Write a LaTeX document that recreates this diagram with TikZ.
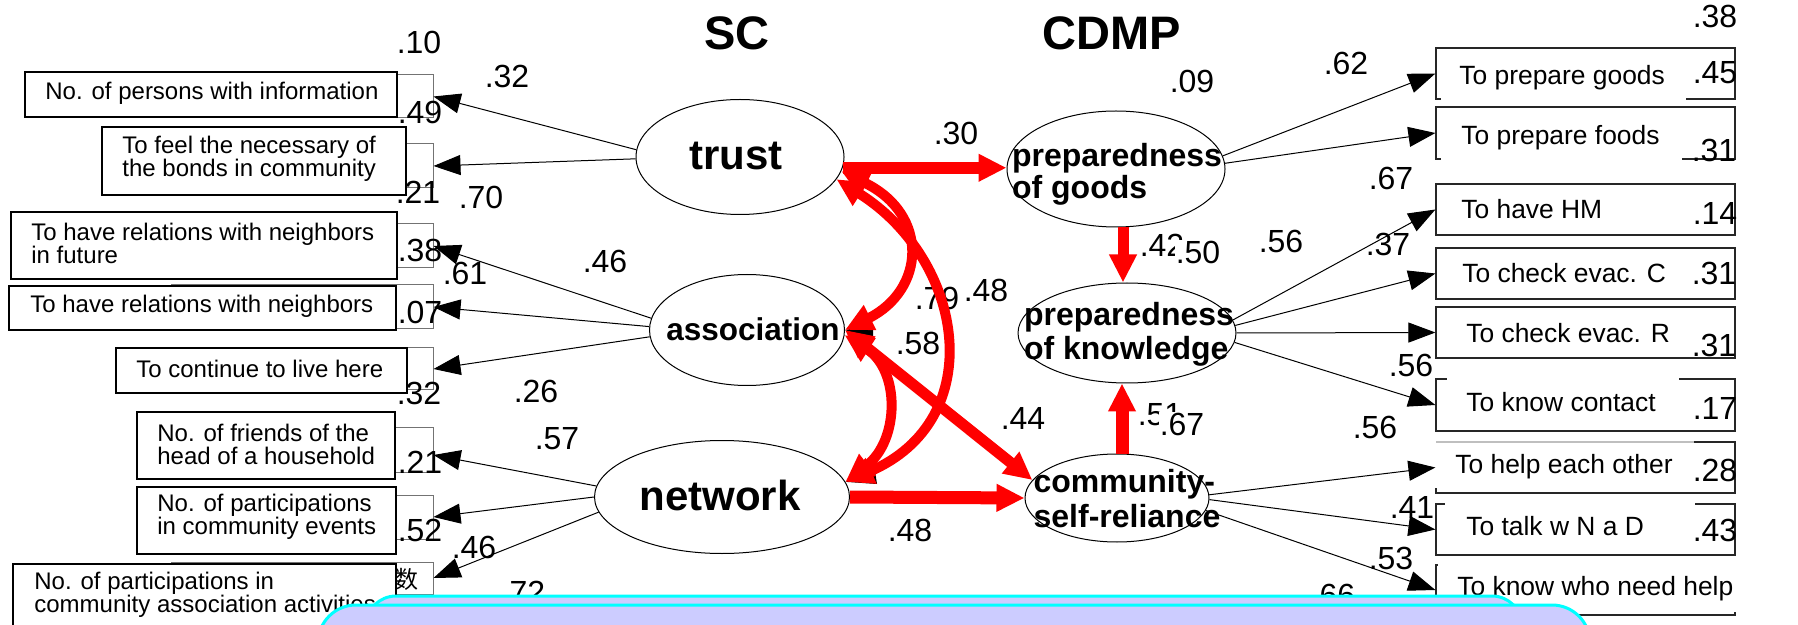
\documentclass[tikz,border=0pt]{standalone}
\usepackage{fontspec}
\setmainfont{Liberation Sans}
\newfontfamily\cjkfont{Noto Sans CJK SC}
\usetikzlibrary{arrows.meta,shapes.geometric,fit}
\definecolor{lav}{RGB}{204,204,255}
\definecolor{cyanb}{RGB}{0,255,255}
\begin{document}
\begin{tikzpicture}[x=0.5pt,y=-0.5pt,
  lbl/.style={inner sep=0pt, font=\fontsize{16}{16}\selectfont},
  lbox/.style={draw=black, line width=1pt, fill=white, inner sep=0pt},
  tbox/.style={draw=black!55, line width=0.5pt, inner sep=0pt},
  rbox/.style={draw=black!85, line width=0.6pt, inner sep=0pt},
  ltxt/.style={anchor=west, align=left, inner sep=0pt, font=\fontsize{12}{11.5}\selectfont},
  rtxt/.style={anchor=west, inner sep=0pt, font=\fontsize{13.2}{14}\selectfont},
  lat/.style={draw=black, line width=0.5pt, inner sep=0pt, shape=ellipse},
  etxt/.style={inner sep=0pt, align=left},
  blk/.style={draw=black, line width=0.5pt, -{Triangle[length=13.5pt,width=10pt]}},
  redarr/.style={draw=red, line width=6pt, -{Triangle[length=14pt,width=13pt]}},
  redcurve/.style={draw=red, line width=5pt, {Triangle[length=14pt,width=13pt]}-{Triangle[length=14pt,width=13pt]}},
  bluebox/.style={fill=lav, draw=cyanb, line width=1.5pt}
]
\path[use as bounding box] (0,0) rectangle (1798,625);
\clip (0,0) rectangle (1798,625);
\fill[white] (0,0) rectangle (1798,625);

% thin back boxes (left)
\node[tbox, fit={(171,75) (433,118)}] (t1) {};
\node[tbox, fit={(171,144) (433,188)}] (t2) {};
\node[tbox, fit={(171,224) (433,268)}] (t3) {};
\node[tbox, fit={(171,285) (433,329)}] (t4) {};
\node[tbox, fit={(171,348) (433,390)}] (t5) {};
\node[tbox, fit={(171,427) (433,472)}] (t6) {};
\node[tbox, fit={(171,495) (433,539)}] (t7) {};
\node[tbox, fit={(171,562) (433,594)}] (t8) {};
\node[inner sep=0pt, font=\cjkfont\fontsize{12}{12}\selectfont] (kanji) at (406,579) {数};

% thick boxes (left)
\node[lbox, fit={(25,72) (397,117)}] (b1) {};
\node[lbox, fit={(102,127) (406,195)}] (b2) {};
\node[lbox, fit={(11,212) (397,279)}] (b3) {};
\node[lbox, fit={(9,286) (396,330)}] (b4) {};
\node[lbox, fit={(116,348) (407,393)}] (b5) {};
\node[lbox, fit={(137,412) (395,479)}] (b6) {};
\node[lbox, fit={(137,487) (396,554)}] (b7) {};
\node[lbox, fit={(13,564) (396,660)}] (b8) {};
\node[ltxt] (bt1) at (45,93) {No. of persons with information};
\node[ltxt] (bt2) at (122,159) {To feel the necessary of\\the bonds in community};
\node[ltxt] (bt3) at (31,243) {To have relations with neighbors\\in future};
\node[ltxt] (bt4) at (30,306) {To have relations with neighbors};
\node[ltxt] (bt5) at (136,369) {To continue to live here};
\node[ltxt] (bt6) at (157,444) {No. of friends of the\\head of a household};
\node[ltxt] (bt7) at (157,517) {No. of participations\\in community events};
\node[ltxt] (bt8) at (34,595) {No. of participations in\\community association activities};

% right boxes
\node[rbox, fit={(1436,48) (1735,99)}] (r1) {};
\node[rbox, fit={(1436,107) (1735,159)}] (r2) {};
\node[rbox, fit={(1436,184) (1735,235)}] (r3) {};
\node[rbox, fit={(1436,248) (1735,299)}] (r4) {};
\node[rbox, fit={(1436,307) (1735,358)}] (r5) {};
\node[rbox, fit={(1436,379) (1735,431)}] (r6) {};
\node[rbox, fit={(1436,442) (1735,493)}] (r7) {};
\node[rbox, fit={(1436,504) (1735,555)}] (r8) {};
\node[rbox, fit={(1436,565) (1735,615)}] (r9) {};
\fill[white] (1441,60) rectangle (1686,101);
\fill[white] (1441,120) rectangle (1682,161);
\fill[white] (1447,377) rectangle (1679,392);
\fill[white] (1434,440) rectangle (1694,488);
\draw[black!25, line width=0.6pt] (1436,442) -- (1694,442);
\fill[white] (1445,502) rectangle (1695,516);
\fill[white] (1438,563) rectangle (1737,612);
\fill[white] (1438,612) rectangle (1579,618);
\node[rtxt] (rt1) at (1459,78) {To prepare goods};
\node[rtxt] (rt2) at (1461,138) {To prepare foods};
\node[rtxt] (rt3) at (1461,209) {To have HM};
\node[rtxt] (rt4) at (1462,273) {To check evac. C};
\node[rtxt] (rt5) at (1466,333) {To check evac. R};
\node[rtxt] (rt6) at (1466,402) {To know contact};
\node[rtxt] (rt7) at (1455,467) {To help each other};
\node[rtxt] (rt8) at (1466,526) {To talk w N a D};
\node[rtxt] (rt9) at (1457,589) {To know who need help};

% latent variables
\node[lat, minimum width=104pt, minimum height=57.5pt] (trust) at (740,157) {};
\node[lat, minimum width=97.5pt, minimum height=55.5pt] (assoc) at (747,330) {};
\node[lat, minimum width=127.5pt, minimum height=56.5pt] (network) at (722,497) {};
\node[lat, minimum width=109pt, minimum height=58pt] (goods) at (1116,169) {};
\node[lat, minimum width=109pt, minimum height=50pt] (know) at (1127,333) {};
\node[lat, minimum width=92pt, minimum height=44pt] (comm) at (1117,498) {};

% black loadings
\draw[blk] (trust.176) -- (t1.east);
\draw[blk] (trust.181) -- (t2.east);
\draw[blk] (assoc.173) -- (t3.east);
\draw[blk] (assoc.178) -- (t4.east);
\draw[blk] (assoc.184) -- (t5.east);
\draw[blk] (network.175) -- ([yshift=-2.75pt]t6.east);
\draw[blk] (network.180) -- (t7.east);
\draw[blk] (network.187) -- (t8.east);
\draw[blk] (goods.7) -- (r1.west);
\draw[blk] (goods.3) -- (r2.west);
\draw[blk] (know.7) -- (r3.west);
\draw[blk] (know.4) -- (r4.west);
\draw[blk] (know.0) -- (r5.west);
\draw[blk] (know.355) -- (r6.west);
\draw[blk] (comm.2) -- (r7.west);
\draw[blk] (comm.359) -- (r8.west);
\draw[blk] (comm.352) -- (r9.west);

% black remnants
\fill[black] (assoc.east) -- (873,325) -- (873,340) -- cycle;
\fill[black] (network.7) -- (875,471) -- (877,484) -- cycle;

% titles and latent texts
\node[inner sep=0pt, font=\bfseries\fontsize{23.5}{24}\selectfont] (sc) at (737,33) {SC};
\node[inner sep=0pt, font=\bfseries\fontsize{23.5}{24}\selectfont] (cdmp) at (1112,33) {CDMP};
\node[etxt, font=\bfseries\fontsize{21}{21}\selectfont] (trustT) at (736,156) {trust};
\node[etxt, font=\bfseries\fontsize{15.75}{16}\selectfont] (assocT) at (753,329) {association};
\node[etxt, font=\bfseries\fontsize{21}{21}\selectfont] (networkT) at (720,495) {network};
\node[etxt, font=\bfseries\fontsize{16}{16}\selectfont] (goodsT) at (1117,174) {preparedness\\of goods};
\node[etxt, font=\bfseries\fontsize{16}{17}\selectfont] (knowT) at (1129,334) {preparedness\\of knowledge};
\node[etxt, font=\bfseries\fontsize{16}{17.5}\selectfont] (commT) at (1127,499) {community-\\self-reliance};

% numbers
\node[lbl] (n01) at (419,42) {.10};
\node[lbl] (n02) at (507,76) {.32};
\node[lbl] (n03) at (420,112) {.49};
\node[lbl] (n04) at (418,192) {.21};
\node[lbl] (n05) at (481,197) {.70};
\node[lbl] (n06) at (420,250) {.38};
\node[lbl] (n07) at (605,261) {.46};
\node[lbl] (n08) at (465,273) {.61};
\node[lbl] (n09) at (420,312) {.07};
\node[lbl] (n10) at (419,393) {.32};
\node[lbl] (n11) at (536,391) {.26};
\node[lbl] (n12) at (557,439) {.57};
\node[lbl] (n13) at (420,462) {.21};
\node[lbl] (n14) at (420,530) {.52};
\node[lbl] (n15) at (474,547) {.46};
\node[lbl] (n16) at (523,592) {.72};
\node[lbl] (n17) at (1192,81) {.09};
\node[lbl] (n18) at (956,133) {.30};
\node[lbl] (n19) at (937,298) {.79};
\node[lbl] (n20) at (986,290) {.48};
\node[lbl] (n21) at (918,343) {.58};
\node[lbl] (n22) at (1162,245) {.42};
\node[lbl, fill=white, inner sep=0.5pt] (n23) at (1198,252) {.50};
\node[lbl] (n24) at (1023,418) {.44};
\node[lbl] (n25) at (1160,415) {.51};
\node[lbl, fill=white, inner sep=0.5pt] (n26) at (1182,424) {.67};
\node[lbl] (n27) at (910,530) {.48};
\node[lbl] (n28) at (1715,16) {.38};
\node[lbl] (n29) at (1346,63) {.62};
\node[lbl] (n30) at (1715,73) {.45};
\node[lbl] (n31) at (1714,150) {.31};
\node[lbl] (n32) at (1391,178) {.67};
\node[lbl] (n33) at (1715,213) {.14};
\node[lbl] (n34) at (1281,241) {.56};
\node[lbl] (n35) at (1388,244) {.37};
\node[lbl] (n36) at (1714,273) {.31};
\node[lbl] (n37) at (1714,345) {.31};
\node[lbl] (n38) at (1411,365) {.56};
\node[lbl] (n39) at (1715,408) {.17};
\node[lbl] (n40) at (1375,427) {.56};
\node[lbl] (n41) at (1715,470) {.28};
\node[lbl] (n42) at (1412,507) {.41};
\node[lbl] (n43) at (1715,530) {.43};
\node[lbl] (n44) at (1391,558) {.53};
\node[lbl] (n45) at (1333,595) {.66};

% red structural paths
\draw[redarr] (trust.354) -- (trust.354 -| goods.west);
\draw[redarr, line width=5.5pt] ([xshift=3.5pt]goods.south) -- ([xshift=-2pt]know.north);
\draw[redarr, line width=6.5pt] ([xshift=2.5pt]comm.north) -- ([xshift=-2.5pt]know.south);
\draw[redarr, line width=6.5pt] (network.east) -- (comm.west);
\draw[redcurve] (trust.352) .. controls (930,215) and (925,290) .. (assoc.east);
\draw[redcurve] (trust.347) .. controls (965,260) and (990,420) .. (network.7);
\draw[redcurve] (assoc.357) .. controls (900,370) and (900,440) .. (network.7);
\draw[redcurve, line width=5.5pt] (assoc.east) -- (comm.168);

% overlay boxes
\draw[bluebox, rounded corners=15pt] (366,596) rectangle (1522,720);
\draw[bluebox, rounded corners=19pt] (318,605) rectangle (1590,720);
\end{tikzpicture}
\end{document}
